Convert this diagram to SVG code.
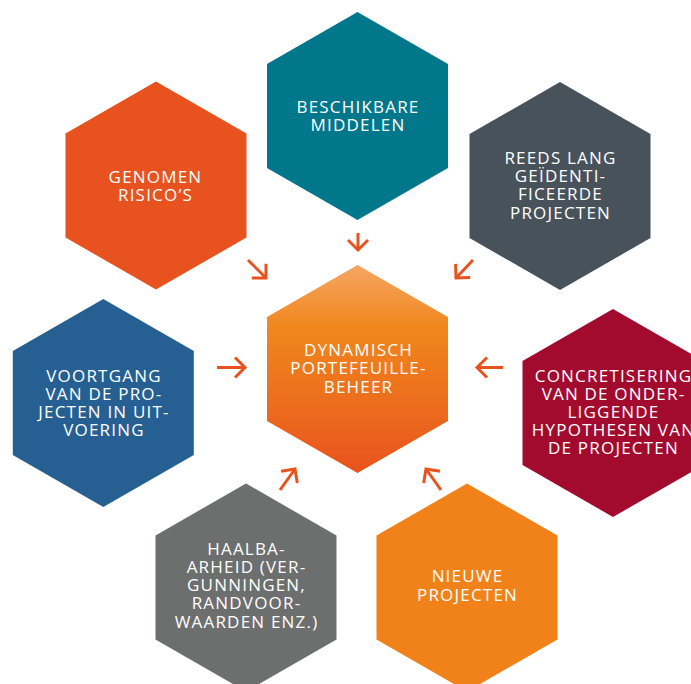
<svg xmlns="http://www.w3.org/2000/svg" width="691" height="684" viewBox="0 0 691 684">
  <defs>
    <polygon id="hex" points="0,-104 90.5,-52 90.5,52 0,104 -90.5,52 -90.5,-52"/>
    <linearGradient id="centerGrad" x1="0" y1="0" x2="0" y2="1">
      <stop offset="0" stop-color="#F5A663"/>
      <stop offset="0.3" stop-color="#F0871D"/>
      <stop offset="0.7" stop-color="#EC6B1D"/>
      <stop offset="1" stop-color="#E8521E"/>
    </linearGradient>
    <marker id="chev" markerUnits="userSpaceOnUse" viewBox="-13 -12 15 24" refX="0" refY="0" markerWidth="15" markerHeight="24" orient="auto" overflow="visible">
      <path d="M -10 -10 L 0 0 L -10 10" fill="none" stroke="#E8521E" stroke-width="3" stroke-linejoin="miter"/>
    </marker>
    <style>
      .lbl { font-family: "Open Sans", "Liberation Sans", sans-serif; font-size: 17px; fill: #FFFFFF; text-anchor: middle; letter-spacing: 1.2px; }
      .arr { fill: none; stroke: #E8521E; stroke-width: 3; marker-end: url(#chev); }
    </style>
  </defs>
  <rect width="691" height="684" fill="#FFFFFF"/>

  <g id="connectors">
    <path class="arr" d="M 358 233 L 358 250"/>
    <path class="arr" d="M 248 260 L 266 278"/>
    <path class="arr" d="M 473 260 L 456 278"/>
    <path class="arr" d="M 217 367.5 L 245 367.5"/>
    <path class="arr" d="M 503 367.5 L 477 367.5"/>
    <path class="arr" d="M 280 490 L 295 469"/>
    <path class="arr" d="M 441 490 L 426 469"/>
  </g>

  <g id="beschikbare-middelen">
    <use href="#hex" transform="translate(357.5,116)" fill="#00778A"/>
    <text class="lbl" x="358" y="112.7">BESCHIKBARE</text>
    <text class="lbl" x="358" y="130.7">MIDDELEN</text>
  </g>

  <g id="genomen-risicos">
    <use href="#hex" transform="translate(156,185.5)" fill="#E8521E"/>
    <text class="lbl" x="155.5" y="182.7">GENOMEN</text>
    <text class="lbl" x="155.5" y="200.7">RISICO’S</text>
  </g>

  <g id="reeds-lang">
    <use href="#hex" transform="translate(560,186)" fill="#47525A"/>
    <text class="lbl" x="560.5" y="164">REEDS LANG</text>
    <text class="lbl" x="560.5" y="182">GEÏDENTI-</text>
    <text class="lbl" x="560.5" y="200.3">FICEERDE</text>
    <text class="lbl" x="560.5" y="218.7">PROJECTEN</text>
  </g>

  <g id="dynamisch-portefeuillebeheer">
    <use href="#hex" transform="translate(357.5,369)" fill="url(#centerGrad)"/>
    <text class="lbl" x="358.5" y="356">DYNAMISCH</text>
    <text class="lbl" x="358.5" y="374.2">PORTEFEUILLE-</text>
    <text class="lbl" x="358.5" y="392.5">BEHEER</text>
  </g>

  <g id="voortgang">
    <use href="#hex" transform="translate(103.3,403)" fill="#265F91"/>
    <text class="lbl" x="104" y="381.7">VOORTGANG</text>
    <text class="lbl" x="104" y="399.8">VAN DE PRO-</text>
    <text class="lbl" x="104" y="418">JECTEN IN UIT-</text>
    <text class="lbl" x="104" y="436">VOERING</text>
  </g>

  <g id="concretisering">
    <use href="#hex" transform="translate(613,413)" fill="#A20B2E"/>
    <text class="lbl" x="613.5" y="381.7">CONCRETISERING</text>
    <text class="lbl" x="613.5" y="399.7">VAN DE ONDER-</text>
    <text class="lbl" x="613.5" y="418">LIGGENDE</text>
    <text class="lbl" x="613.5" y="436.2">HYPOTHESEN VAN</text>
    <text class="lbl" x="613.5" y="454.3">DE PROJECTEN</text>
  </g>

  <g id="haalbaarheid">
    <use href="#hex" transform="translate(246,587.5)" fill="#6D6E6E"/>
    <text class="lbl" x="246.5" y="555">HAALBA-</text>
    <text class="lbl" x="246.5" y="572.8">ARHEID (VER-</text>
    <text class="lbl" x="246.5" y="590.8">GUNNINGEN,</text>
    <text class="lbl" x="246.5" y="609">RANDVOOR-</text>
    <text class="lbl" x="246.5" y="627.5">WAARDEN ENZ.)</text>
  </g>

  <g id="nieuwe-projecten">
    <use href="#hex" transform="translate(467,587.5)" fill="#F08219"/>
    <text class="lbl" x="467.5" y="582.3">NIEUWE</text>
    <text class="lbl" x="467.5" y="600.7">PROJECTEN</text>
  </g>
</svg>
